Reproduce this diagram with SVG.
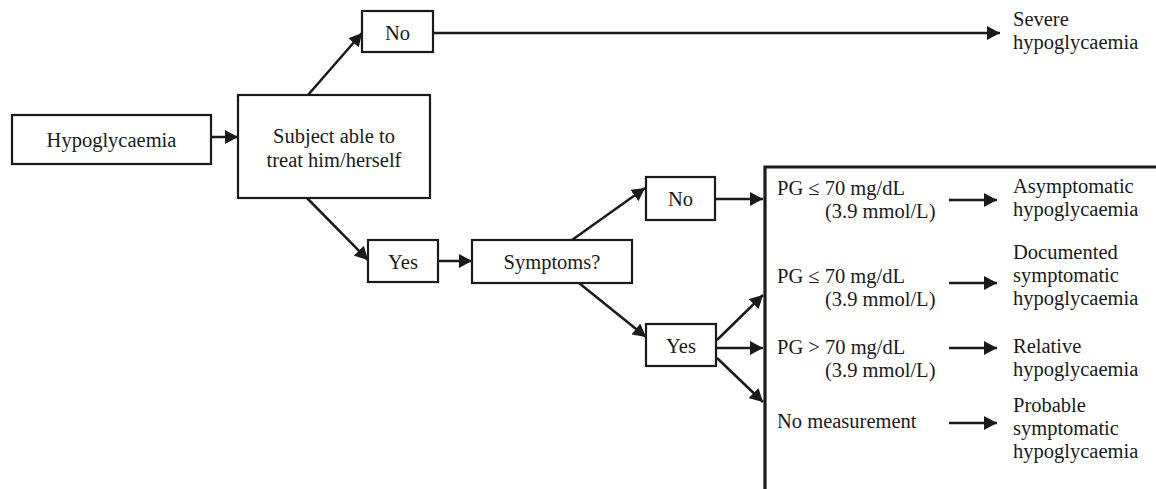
<svg xmlns="http://www.w3.org/2000/svg" width="1156" height="489" viewBox="0 0 1156 489">
<defs>
<marker id="ah" markerUnits="userSpaceOnUse" markerWidth="14" markerHeight="14" refX="13" refY="7" orient="auto">
<path d="M0,0 L13,7 L0,14 z" fill="#1a1a1a"/>
</marker>
<style>
.box{fill:#fff;stroke:#1a1a1a;stroke-width:2.2}
.t{font-family:"Liberation Serif","Times New Roman",serif;font-size:20.5px;fill:#1a1a1a}
.c{text-anchor:middle}
.ar{stroke:#1a1a1a;stroke-width:2.5;fill:none;marker-end:url(#ah)}
</style>
</defs>
<rect width="1156" height="489" fill="#fff"/>
<g id="connectors">
<line class="ar" x1="211" y1="137" x2="238" y2="137"/>
<line class="ar" x1="308" y1="95" x2="362" y2="33"/>
<line class="ar" x1="433" y1="33" x2="1000" y2="33"/>
<line class="ar" x1="307" y1="198" x2="368" y2="260"/>
<line class="ar" x1="438" y1="261" x2="472" y2="261"/>
<line class="ar" x1="572" y1="240" x2="645" y2="188"/>
<line class="ar" x1="579" y1="283" x2="646" y2="337"/>
<line class="ar" x1="715" y1="199" x2="763" y2="199"/>
<line class="ar" x1="717" y1="340" x2="763" y2="295"/>
<line class="ar" x1="716" y1="348" x2="763" y2="348"/>
<line class="ar" x1="717" y1="358" x2="763" y2="402"/>
<line class="ar" x1="949" y1="200" x2="997" y2="200"/>
<line class="ar" x1="949" y1="283" x2="997" y2="283"/>
<line class="ar" x1="949" y1="348" x2="997" y2="348"/>
<line class="ar" x1="949" y1="423" x2="997" y2="423"/>
</g>
<g id="bracket">
<polyline points="1156,167 765,167 765,489" fill="none" stroke="#1a1a1a" stroke-width="3.2"/>
</g>
<g id="n-hypo">
<rect class="box" x="12" y="115" width="199" height="49"/>
<text class="t c" x="111.5" y="147">Hypoglycaemia</text>
</g>
<g id="n-subject">
<rect class="box" x="238" y="95" width="192" height="103"/>
<text class="t c" x="334" y="143">Subject able to</text>
<text class="t c" x="334" y="167">treat him/herself</text>
</g>
<g id="n-no1">
<rect class="box" x="362" y="11" width="71" height="41"/>
<text class="t c" x="397.5" y="40">No</text>
</g>
<g id="n-severe">
<text class="t" x="1013" y="26">Severe</text>
<text class="t" x="1013" y="49">hypoglycaemia</text>
</g>
<g id="n-yes1">
<rect class="box" x="368" y="240" width="70" height="42"/>
<text class="t c" x="403" y="269">Yes</text>
</g>
<g id="n-symptoms">
<rect class="box" x="472" y="240" width="160" height="43"/>
<text class="t c" x="552" y="269">Symptoms?</text>
</g>
<g id="n-no2">
<rect class="box" x="646" y="177" width="69" height="43"/>
<text class="t c" x="680.5" y="206">No</text>
</g>
<g id="n-yes2">
<rect class="box" x="646" y="324" width="70" height="42"/>
<text class="t c" x="681" y="353">Yes</text>
</g>
<g id="n-pg1">
<text class="t" x="777" y="195">PG ≤ 70 mg/dL</text>
<text class="t" x="825" y="218">(3.9 mmol/L)</text>
</g>
<g id="n-asym">
<text class="t" x="1013" y="193">Asymptomatic</text>
<text class="t" x="1013" y="216">hypoglycaemia</text>
</g>
<g id="n-pg2">
<text class="t" x="777" y="283">PG ≤ 70 mg/dL</text>
<text class="t" x="825" y="306">(3.9 mmol/L)</text>
</g>
<g id="n-doc">
<text class="t" x="1013" y="259">Documented</text>
<text class="t" x="1013" y="282">symptomatic</text>
<text class="t" x="1013" y="305">hypoglycaemia</text>
</g>
<g id="n-pg3">
<text class="t" x="777" y="354">PG &gt; 70 mg/dL</text>
<text class="t" x="825" y="377">(3.9 mmol/L)</text>
</g>
<g id="n-rel">
<text class="t" x="1013" y="353">Relative</text>
<text class="t" x="1013" y="376">hypoglycaemia</text>
</g>
<g id="n-nomeas">
<text class="t" x="777" y="428">No measurement</text>
</g>
<g id="n-prob">
<text class="t" x="1013" y="412">Probable</text>
<text class="t" x="1013" y="435">symptomatic</text>
<text class="t" x="1013" y="458">hypoglycaemia</text>
</g>
</svg>
